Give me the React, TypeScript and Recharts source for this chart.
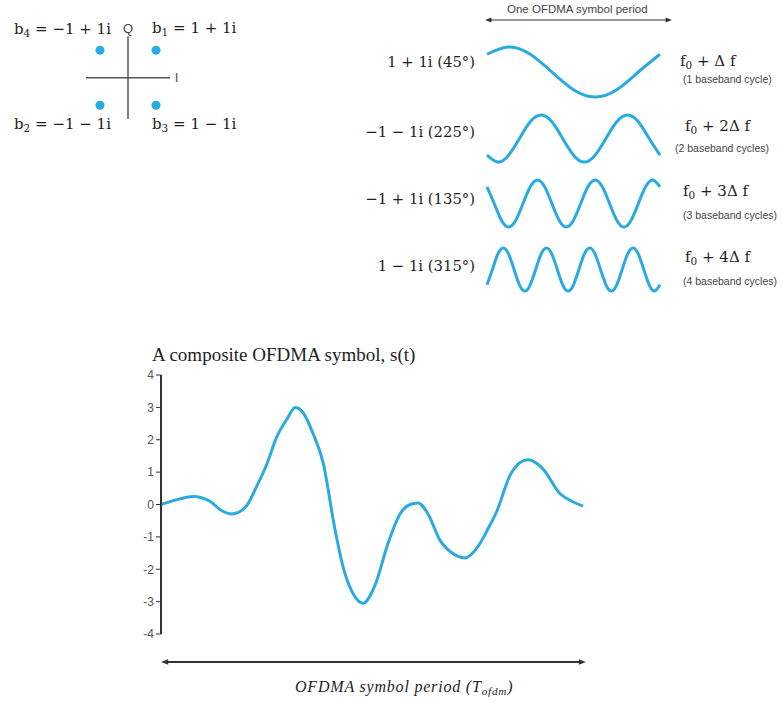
import React from 'react';
import { LineChart, Line, XAxis, YAxis, ScatterChart, Scatter, ReferenceLine } from 'recharts';

const BLUE = '#29abe2';
const INK = '#1e1e1e';
const SERIF = '"DejaVu Serif", serif';
const SANS = '"Liberation Sans", Arial, sans-serif';

// QPSK constellation points
const CONST_I = [1, -1, -1, 1];
const CONST_Q = [1, -1, 1, -1];

// subcarrier waveforms, read every 1/8 of a baseband cycle
const WAVE_1 = [0.71, 1, 0.71, 0, -0.71, -1, -0.71, 0, 0.71];
const WAVE_2 = [-0.71, -1, -0.71, 0, 0.71, 1, 0.71, 0, -0.71, -1, -0.71, 0, 0.71, 1, 0.71, 0, -0.71];
const WAVE_3 = [
  0.71, 0, -0.71, -1, -0.71, 0, 0.71, 1, 0.71, 0, -0.71, -1, -0.71, 0, 0.71, 1, 0.71,
  0, -0.71, -1, -0.71, 0, 0.71, 1, 0.71,
];
const WAVE_4 = [
  -0.71, 0, 0.71, 1, 0.71, 0, -0.71, -1, -0.71, 0, 0.71, 1, 0.71, 0, -0.71, -1, -0.71,
  0, 0.71, 1, 0.71, 0, -0.71, -1, -0.71, 0, 0.71, 1, 0.71, 0, -0.71, -1, -0.71,
];
const SYMBOL_LABELS = ['1 + 1i (45°)', '−1 − 1i (225°)', '−1 + 1i (135°)', '1 − 1i (315°)'];
const FREQ_STEPS = ['', '2', '3', '4'];
const CYCLE_NOTES = ['(1 baseband cycle)', '(2 baseband cycles)', '(3 baseband cycles)', '(4 baseband cycles)'];

// composite symbol s(t), t in % of T_ofdm
const COMPOSITE_T = [
  0, 3.8, 7.6, 11.6, 14.5, 16.8, 19.9, 23.0, 25.1, 27.3, 29.9, 31.8, 33.6, 36.0, 38.4, 41.2,
  43.1, 45.3, 47.9, 50.7, 53.8, 56.6, 59.0, 60.9, 63.3, 66.1, 69.0, 72.0, 75.1, 77.5, 79.6,
  82.7, 85.1, 87.0, 90.5, 94.5, 97.4, 100,
];
const COMPOSITE_S = [
  0, 0.15, 0.25, 0.1, -0.2, -0.29, -0.1, 0.65, 1.25, 2.05, 2.65, 3.0, 2.85, 2.2, 1.3, -0.75,
  -1.9, -2.7, -3.05, -2.5, -1.2, -0.3, 0.0, 0.05, -0.3, -1.1, -1.5, -1.65, -1.3, -0.75, -0.2,
  0.9, 1.3, 1.38, 1.1, 0.34, 0.1, -0.05,
];
const Y_TICKS = [-4, -3, -2, -1, 0, 1, 2, 3, 4];

const WAVE_BOXES = [
  { top: 44, height: 56 },
  { top: 112, height: 53 },
  { top: 177, height: 53 },
  { top: 245, height: 49 },
];
const LABEL_BASE = [67.5, 138, 205, 272];
const FREQ_BASE = [67, 132, 197, 263];
const NOTE_BASE = [83, 152, 219, 285];
const FREQ_LEFT = [680, 685, 683, 685];
const NOTE_LEFT = [683, 675, 683, 683];

const Sub = ({ children }: { children: React.ReactNode }) => (
  <span style={{ fontSize: '0.7em', verticalAlign: '-0.3em' }}>{children}</span>
);

function Txt({ x, base, size, font, children, style }: any) {
  // positions a line of text by its baseline
  const asc = font === SERIF ? 0.846 : 0.84;
  return (
    <div
      style={{
        position: 'absolute',
        left: x,
        top: base - asc * size,
        fontSize: size,
        lineHeight: 1,
        fontFamily: font,
        color: INK,
        whiteSpace: 'nowrap',
        ...style,
      }}
    >
      {children}
    </div>
  );
}

function Wave({ values, top, height }: { values: number[]; top: number; height: number }) {
  const data = values.map((v, i) => ({ t: i / (values.length - 1), v }));
  return (
    <div style={{ position: 'absolute', left: 484, top }}>
      <LineChart width={179} height={height} data={data} margin={{ top: 3, right: 3, bottom: 3, left: 3 }}>
        <XAxis dataKey="t" type="number" domain={[0, 1]} hide />
        <YAxis domain={[-1, 1]} hide />
        <Line dataKey="v" type="natural" stroke={BLUE} strokeWidth={3} dot={false} isAnimationActive={false} />
      </LineChart>
    </div>
  );
}

function Arrow({ x1, x2, y, w, head }: { x1: number; x2: number; y: number; w: number; head: number }) {
  return (
    <svg style={{ position: 'absolute', left: 0, top: 0 }} width={783} height={702}>
      <line x1={x1 + head} x2={x2 - head} y1={y} y2={y} stroke="#333" strokeWidth={w} />
      <polygon points={`${x1},${y} ${x1 + head * 1.6},${y - head * 0.6} ${x1 + head * 1.6},${y + head * 0.6}`} fill="#333" />
      <polygon points={`${x2},${y} ${x2 - head * 1.6},${y - head * 0.6} ${x2 - head * 1.6},${y + head * 0.6}`} fill="#333" />
    </svg>
  );
}

export default function App() {
  const points = CONST_I.map((i, k) => ({ i, q: CONST_Q[k] }));
  const composite = COMPOSITE_T.map((t, k) => ({ t, s: COMPOSITE_S[k] }));

  return (
    <div style={{ position: 'absolute', left: 0, top: 0, width: 783, height: 702, background: '#fff', overflow: 'hidden' }}>
      {/* constellation */}
      <div style={{ position: 'absolute', left: 66, top: 12 }}>
        <ScatterChart width={124} height={117} margin={{ top: 24.5, right: 20, bottom: 10, left: 20 }}>
          <XAxis type="number" dataKey="i" domain={[-1.5, 1.5]} hide />
          <YAxis type="number" dataKey="q" domain={[-1.5, 1.5]} hide />
          <ReferenceLine
            x={0}
            stroke="#555"
            strokeWidth={1.5}
            label={{ value: 'Q', position: 'top', offset: 4, fill: '#444', fontSize: 13, fontFamily: SANS }}
          />
          <ReferenceLine
            y={0}
            stroke="#555"
            strokeWidth={1.5}
            label={{ value: 'I', position: 'right', offset: 5, fill: '#444', fontSize: 12, fontFamily: SANS }}
          />
          <Scatter data={points} fill={BLUE} isAnimationActive={false} />
        </ScatterChart>
      </div>
      <Txt x={14} base={35} size={15} font={SERIF}>b<Sub>4</Sub> = −1 + 1i</Txt>
      <Txt x={152} base={34} size={15} font={SERIF}>b<Sub>1</Sub> = 1 + 1i</Txt>
      <Txt x={14} base={130} size={15} font={SERIF}>b<Sub>2</Sub> = −1 − 1i</Txt>
      <Txt x={152} base={130} size={15} font={SERIF}>b<Sub>3</Sub> = 1 − 1i</Txt>

      {/* subcarriers */}
      <Arrow x1={485} x2={672} y={20} w={1.2} head={4} />
      <Txt x={507} base={14} size={11.5} font={SANS} style={{ color: '#444' }}>One OFDMA symbol period</Txt>
      {SYMBOL_LABELS.map((lab, k) => (
        <React.Fragment key={lab}>
          <Wave values={[WAVE_1, WAVE_2, WAVE_3, WAVE_4][k]} {...WAVE_BOXES[k]} />
          <Txt x={275} base={LABEL_BASE[k]} size={14.8} font={SERIF} style={{ width: 200, textAlign: 'right' }}>{lab}</Txt>
          <Txt x={FREQ_LEFT[k]} base={FREQ_BASE[k]} size={15} font={SERIF}>f<Sub>0</Sub> + {FREQ_STEPS[k]}Δ f</Txt>
          <Txt x={NOTE_LEFT[k]} base={NOTE_BASE[k]} size={10.5} font={SANS} style={{ color: '#444' }}>{CYCLE_NOTES[k]}</Txt>
        </React.Fragment>
      ))}

      {/* composite symbol */}
      <Txt x={152} base={361} size={19} font={'"Liberation Serif", serif'}>A composite OFDMA symbol, s(t)</Txt>
      <div style={{ position: 'absolute', left: 121, top: 367 }}>
        <LineChart width={472} height={275} data={composite} margin={{ top: 8, right: 10, bottom: 8, left: 0 }}>
          <XAxis dataKey="t" type="number" domain={[0, 100]} hide />
          <YAxis
            domain={[-4, 4]}
            ticks={Y_TICKS}
            interval={0}
            width={40}
            axisLine={{ stroke: '#333', strokeWidth: 2 }}
            tickLine={{ stroke: '#333' }}
            tickSize={5}
            tick={{ fill: '#555', fontSize: 12, fontFamily: SANS }}
          />
          <Line dataKey="s" type="monotone" stroke={BLUE} strokeWidth={3} dot={false} isAnimationActive={false} />
        </LineChart>
      </div>
      <Arrow x1={161} x2={586} y={662} w={2} head={4.5} />
      <Txt x={295} base={692} size={16} font={'"Liberation Serif", serif'} style={{ fontStyle: 'italic', letterSpacing: 0.8 }}>
        OFDMA symbol period (T<Sub>ofdm</Sub>)
      </Txt>
    </div>
  );
}
